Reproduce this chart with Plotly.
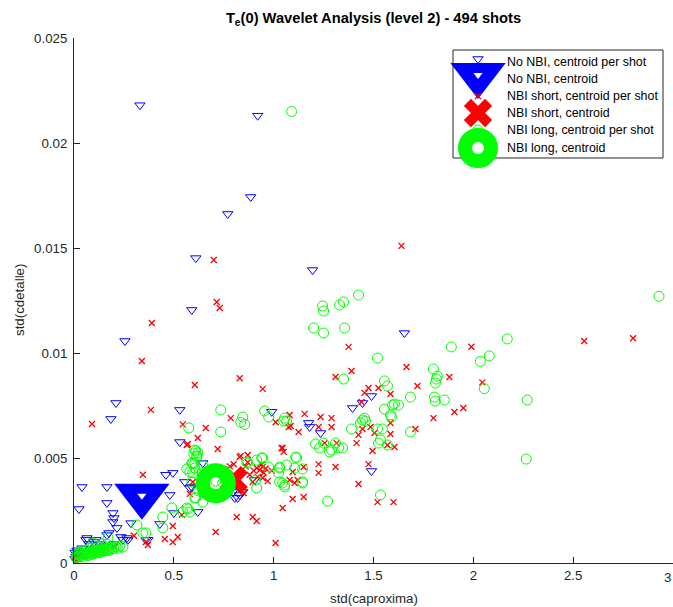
import plotly.graph_objects as go

# ---------------- data ----------------
# No NBI, centroid per shot
nonbi_x = [0.33, 0.92, 0.885, 0.77, 0.61, 1.195, 0.59, 0.255, 1.655, 0.21, 0.185, 0.53, 0.99,
           1.175, 1.18, 0.53, 1.49, 1.445, 1.395, 1.235, 1.49, 0.04, 0.025, 0.165, 0.165, 0.195,
           0.215, 0.195, 0.285, 0.46, 0.495, 0.48, 0.5, 0.43, 0.37, 0.265, 0.065, 0.165, 0.59,
           0.62, 0.645, 0.795, 0.82, 0.83, 0.555, 0.235, 0.06, 0.11, 0.175, 0.2, 0.245, 0.27,
           0.36, 0.58, 0.845, 0.805, 0.905, 0.005, 0.01, 0.015, 0.02, 0.03, 0.005, 0.04, 0.075,
           0.1, 0.13, 0.15, 0.2]
nonbi_y = [0.0218, 0.0213, 0.01743, 0.01662, 0.01452, 0.01395, 0.01205, 0.01057, 0.01095, 0.00762,
           0.00686, 0.00729, 0.0072, 0.00667, 0.00648, 0.00576, 0.00795, 0.00762, 0.00738, 0.00619,
           0.00438, 0.00362, 0.00257, 0.00362, 0.00286, 0.00238, 0.00167, 0.00195, 0.0019, 0.0042,
           0.00429, 0.00324, 0.00238, 0.00186, 0.0011, 0.00119, 0.00119, 0.00133, 0.00362, 0.00243,
           0.00476, 0.00338, 0.0031, 0.00324, 0.00386, 0.00124, 0.0011, 0.0011, 0.00143, 0.00214,
           0.0011, 0.0011, 0.0011, 0.00357, 0.00338, 0.0031, 0.00395, 0.0005, 0.0003, 0.0006,
           0.0004, 0.0005, 0.0002, 0.0007, 0.0009, 0.001, 0.0009, 0.0008, 0.0009]
nonbi_cx = [0.34]
nonbi_cy = [0.0032]

# NBI short, centroid per shot
short_x = [0.70, 1.64, 0.715, 0.73, 0.39, 0.34, 0.83, 0.605, 0.945, 0.09, 0.385, 0.785, 0.545,
           0.66, 0.62, 0.57, 0.72, 1.01, 1.08, 1.085, 1.155, 1.125, 1.04, 1.05, 1.375, 1.99,
           2.555, 2.8, 1.665, 1.39, 1.31, 1.88, 2.045, 1.72, 1.525, 1.475, 1.455, 1.585, 1.44,
           1.95, 1.905, 1.8, 1.235, 1.29, 1.225, 1.29, 1.585, 1.445, 1.485, 1.425, 1.505, 1.585,
           1.71, 1.57, 1.605, 1.415, 1.495, 1.255, 1.315, 1.15, 1.225, 1.225, 1.31, 1.475, 1.425,
           1.15, 1.52, 1.6, 1.075, 0.835, 0.87, 0.945, 0.915, 1.045, 1.095, 1.08, 1.12, 1.095,
           0.895, 0.85, 0.815, 0.895, 0.915, 0.71, 1.01, 1.045, 0.595, 0.58, 0.54, 0.495, 0.52,
           0.495, 0.455, 0.37, 0.345, 0.93, 0.945, 1.105, 0.565, 0.83, 0.86, 0.88, 0.9, 0.92,
           0.95, 0.97, 0.87, 0.78, 0.76, 0.8, 0.01, 0.02, 0.03, 0.05, 0.07, 0.1, 0.13, 0.16, 0.2,
           0.005, 0.09, 0.3, 0.36, 0.94, 0.96, 0.99]
short_y = [0.01443, 0.0151, 0.01243, 0.01214, 0.01143, 0.00962, 0.0088, 0.00848, 0.00829, 0.00662,
           0.00729, 0.0069, 0.0066, 0.00643, 0.00595, 0.00567, 0.00543, 0.0067, 0.00705, 0.00652,
           0.0071, 0.00624, 0.00548, 0.00529, 0.01029, 0.0103, 0.01057, 0.0107, 0.00933, 0.00914,
           0.00886, 0.00886, 0.0086, 0.00843, 0.00833, 0.00833, 0.0081, 0.00805, 0.00767, 0.00738,
           0.00719, 0.0069, 0.00695, 0.0069, 0.00648, 0.00648, 0.00667, 0.00638, 0.00648, 0.0061,
           0.00619, 0.00614, 0.00638, 0.00562, 0.00552, 0.00571, 0.00533, 0.00571, 0.00571, 0.00457,
           0.00471, 0.00429, 0.00457, 0.00471, 0.00376, 0.00314, 0.0029, 0.0029, 0.00648, 0.0051,
           0.00514, 0.00457, 0.00452, 0.00548, 0.00433, 0.00395, 0.00395, 0.00305, 0.00386, 0.00333,
           0.00219, 0.00219, 0.002, 0.00148, 0.00095, 0.00262, 0.00386, 0.00329, 0.00229, 0.00176,
           0.00124, 0.001, 0.00114, 0.00086, 0.0042, 0.00443, 0.00405, 0.00381, 0.00562, 0.00505,
           0.0046, 0.0042, 0.0044, 0.0041, 0.0043, 0.0039, 0.0048, 0.0046, 0.0044, 0.0047, 0.0001,
           0.0002, 0.0004, 0.0003, 0.0005, 0.0004, 0.0006, 0.0007, 0.0008, 0.0003, 0.0006, 0.0013,
           0.001, 0.0047, 0.0045, 0.0044]
short_cx = [0.80]
short_cy = [0.00395]

# NBI long, centroid per shot
long_x = [1.09, 2.93, 2.17, 2.08, 2.035, 2.055, 2.27, 2.265, 1.425, 1.35, 1.33, 1.245, 1.25, 1.2,
          1.25, 1.355, 1.89, 1.52, 1.35, 1.8, 1.82, 1.815, 1.81, 1.555, 1.57, 1.685, 1.805, 1.81,
          1.855, 1.605, 1.625, 1.595, 1.555, 1.585, 1.055, 1.455, 1.59, 1.445, 1.435, 1.46, 1.39,
          1.52, 1.545, 1.685, 1.535, 1.525, 1.57, 1.21, 1.23, 1.25, 1.28, 1.31, 1.325, 1.345, 1.29,
          1.145, 1.145, 1.27, 1.535, 0.735, 0.955, 0.975, 0.845, 0.835, 0.855, 0.575, 0.735, 0.61,
          0.615, 1.05, 1.065, 1.11, 0.6, 0.595, 0.94, 0.975, 1.03, 1.025, 1.055, 1.045, 0.315,
          0.345, 0.36, 0.445, 0.445, 0.49, 0.545, 0.57, 0.61, 0.625, 0.64, 0.565, 0.595, 0.605,
          0.645, 0.62, 0.865, 0.915, 0.91, 0.945, 0.17, 0.095, 0.245, 0.605, 0.615, 0.59, 0.605,
          0.58, 0.59, 0.605, 0.645, 0.565, 0.58, 0.87, 0.915, 1.03, 1.065, 1.03, 1.055, 1.115,
          1.105, 1.145, 0.745, 0.71,
          0.01, 0.015, 0.02, 0.025, 0.03, 0.035, 0.04, 0.045, 0.05, 0.055, 0.06, 0.065, 0.07,
          0.075, 0.08, 0.085, 0.09, 0.095, 0.1, 0.105, 0.11, 0.115, 0.12, 0.125, 0.13, 0.135,
          0.14, 0.145, 0.15, 0.155, 0.16, 0.165, 0.17, 0.175, 0.18, 0.185, 0.19, 0.2, 0.21, 0.22,
          0.23, 0.14, 0.1, 0.12, 0.165, 0.08, 0.06, 0.04, 0.02]
long_y = [0.0215, 0.0127, 0.01067, 0.00986, 0.0096, 0.0083, 0.00776, 0.00495, 0.01276, 0.01243,
          0.01229, 0.01224, 0.012, 0.01119, 0.01095, 0.01119, 0.01029, 0.00976, 0.00876, 0.00924,
          0.0089, 0.00876, 0.00857, 0.00867, 0.00843, 0.0079, 0.0079, 0.00771, 0.00776, 0.00757,
          0.00752, 0.00752, 0.00733, 0.00705, 0.0069, 0.0069, 0.00695, 0.00681, 0.00667, 0.00676,
          0.00638, 0.00638, 0.00638, 0.00624, 0.00586, 0.00571, 0.00562, 0.00567, 0.00548, 0.00571,
          0.00529, 0.00571, 0.00548, 0.00548, 0.00538, 0.00448, 0.00381, 0.00295, 0.00324, 0.00729,
          0.00724, 0.00695, 0.00695, 0.0067, 0.0066, 0.00643, 0.00624, 0.00533, 0.0051, 0.00676,
          0.00676, 0.00505, 0.0052, 0.00476, 0.005, 0.00457, 0.00457, 0.00429, 0.00362, 0.00381,
          0.00181, 0.00143, 0.00143, 0.00219, 0.00167, 0.00262, 0.00243, 0.00257, 0.0031, 0.00343,
          0.00429, 0.00448, 0.00429, 0.00476, 0.00462, 0.00524, 0.00481, 0.00357, 0.00395, 0.005,
          0.00119, 0.00095, 0.00076, 0.00538, 0.00505, 0.00476, 0.00452, 0.00433, 0.00386, 0.0031,
          0.0029, 0.00262, 0.00243, 0.00476, 0.0049, 0.00452, 0.00467, 0.00386, 0.00371, 0.005,
          0.00452, 0.00386, 0.00381, 0.0039,
          0.00025, 0.0004, 0.0003, 0.00045, 0.00035, 0.0005, 0.0003, 0.00042, 0.00038, 0.00048,
          0.0004, 0.0005, 0.00035, 0.00045, 0.00052, 0.0004, 0.00048, 0.00055, 0.00045, 0.0005,
          0.00058, 0.00048, 0.00055, 0.0006, 0.0005, 0.00058, 0.00065, 0.00055, 0.0006, 0.00068,
          0.00058, 0.00065, 0.0007, 0.0006, 0.00068, 0.00075, 0.00065, 0.0007, 0.00078, 0.0007,
          0.00082, 0.0009, 0.0007, 0.0008, 0.0009, 0.0007, 0.0006, 0.0006, 0.0005]
long_cx = [0.71]
long_cy = [0.0038]

legend_labels = ["No NBI, centroid per shot", "No NBI, centroid",
                 "NBI short, centroid per shot", "NBI short, centroid",
                 "NBI long, centroid per shot", "NBI long, centroid"]
x_ticks = [0, 0.5, 1, 1.5, 2, 2.5, 3]
x_ticktext = ["0", "0.5", "1", "1.5", "2", "2.5", "3"]
y_ticks = [0, 0.005, 0.01, 0.015, 0.02, 0.025]
y_ticktext = ["0", "0.005", "0.01", "0.015", "0.02", "0.025"]

BLUE, RED, GREEN = "#0000FF", "#FF0000", "#00FF00"
FONT = "Liberation Sans, Arial, Helvetica, sans-serif"
AX = "#262626"

# marker styles for the six series (shared by plot and legend); a style may be a list of
# stacked layers (the centroid triangle = filled triangle + white hole)
styles = [
    [dict(symbol="triangle-down-open", size=9, color=BLUE, line=dict(width=1, color=BLUE))],
    [dict(symbol="triangle-down", size=48, color=BLUE, line=dict(width=0)),
     dict(symbol="triangle-down", size=8, color="white", line=dict(width=0))],
    [dict(symbol="x-thin-open", size=6, color=RED, line=dict(width=1.3, color=RED))],
    [dict(symbol="x", size=25, color=RED, line=dict(width=0))],
    [dict(symbol="circle-open", size=10, color=GREEN, line=dict(width=1, color=GREEN))],
    [dict(symbol="circle-open", size=26, color=GREEN, line=dict(width=14, color=GREEN))],
]
series = [(nonbi_x, nonbi_y), (nonbi_cx, nonbi_cy), (short_x, short_y),
          (short_cx, short_cy), (long_x, long_y), (long_cx, long_cy)]

fig = go.Figure()
for (sx, sy), layers, name in zip(series, styles, legend_labels):
    for st in layers:
        fig.add_trace(go.Scatter(x=sx, y=sy, mode="markers", marker=st, name=name,
                                 showlegend=False, cliponaxis=False, hoverinfo="skip"))

# ---------------- legend (drawn manually so big markers overflow like the original) ----------------
PL, PR, PT, PB = 74, 673, 38, 563
def px2x(px):
    return (px - PL) / (PR - PL)
def py2y(py):
    return (PB - py) / (PB - PT)

row_py = [62, 79, 96, 113, 130, 148]
marker_py = [59, 75, 96, 113, 130, 148]
for layers, py in zip(styles, marker_py):
    for st in layers:
        fig.add_trace(go.Scatter(x=[px2x(478)], y=[py2y(py)], mode="markers", marker=st,
                                 xaxis="x2", yaxis="y2", showlegend=False, cliponaxis=False,
                                 hoverinfo="skip"))

fig.add_shape(type="rect", xref="paper", yref="paper",
              x0=px2x(453), x1=px2x(663), y0=py2y(158), y1=py2y(50),
              line=dict(color=AX, width=1), fillcolor="white", layer="below")
for lab, py in zip(legend_labels, row_py):
    fig.add_annotation(x=px2x(505), y=py2y(py), xref="paper", yref="paper", text=lab,
                       showarrow=False, xanchor="left", yanchor="middle",
                       font=dict(family=FONT, size=12.4, color="black"))

# axis titles
fig.add_annotation(x=0.5, y=py2y(598), xref="paper", yref="paper", text="std(caproxima)",
                   showarrow=False, xanchor="center", yanchor="middle",
                   font=dict(family=FONT, size=13.3, color=AX))
fig.add_annotation(x=px2x(19), y=py2y(300), xref="paper", yref="paper", text="std(cdetalle)",
                   showarrow=False, xanchor="center", yanchor="middle", textangle=-90,
                   font=dict(family=FONT, size=13.3, color=AX))
# last x tick label sits at the window edge; keep it inside the page
fig.add_annotation(x=x_ticks[-1], y=0, xref="x", yref="paper", text=x_ticktext[-1],
                   showarrow=False, xanchor="right", yanchor="top", yshift=-5,
                   font=dict(family=FONT, size=13.3, color=AX))

fig.update_layout(
    width=673, height=607,
    margin=dict(l=PL, r=673 - PR, t=PT, b=607 - PB, pad=0),
    paper_bgcolor="white", plot_bgcolor="white",
    font=dict(family=FONT, size=13.3, color=AX),
    title=dict(text="<b>T<sub>e</sub>(0) Wavelet Analysis (level 2) - 494 shots</b>",
               x=0.5, xref="paper", y=1 - 18 / 607, yref="container",
               xanchor="center", yanchor="middle",
               font=dict(family=FONT, size=14.7, color="black")),
    xaxis=dict(range=[0, 3], tickvals=x_ticks, ticktext=x_ticktext, ticks="inside",
               ticklen=6, tickcolor=AX, showline=True, linecolor=AX, linewidth=1,
               showgrid=False, zeroline=False, tickfont=dict(size=13.3, color=AX)),
    yaxis=dict(range=[0, 0.025], tickvals=y_ticks, ticktext=y_ticktext, ticks="inside",
               ticklen=6, tickcolor=AX, showline=True, linecolor=AX, linewidth=1,
               showgrid=False, zeroline=False, tickfont=dict(size=13.3, color=AX),
               ticklabelstandoff=3),
    xaxis2=dict(range=[0, 1], overlaying="x", visible=False, fixedrange=True),
    yaxis2=dict(range=[0, 1], overlaying="y", visible=False, fixedrange=True),
    showlegend=False,
)

fig.write_html("out.html")
